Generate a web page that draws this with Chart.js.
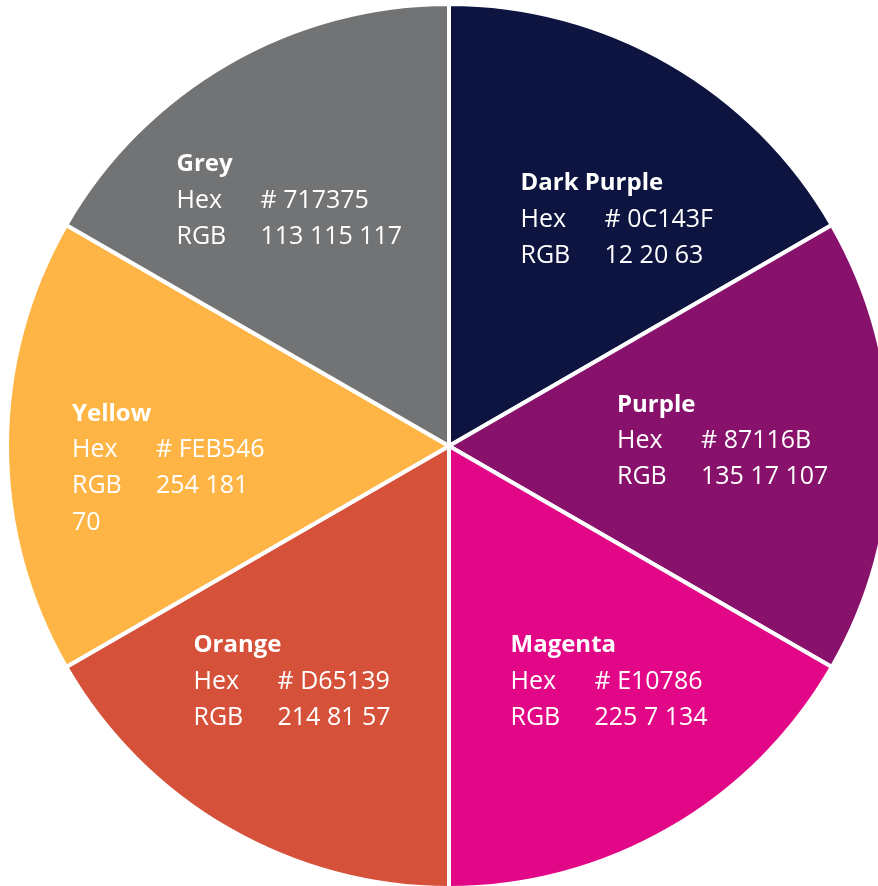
<!DOCTYPE html>
<html>
<head>
<meta charset="utf-8">
<script src="https://cdn.jsdelivr.net/npm/chart.js@4.4.0/dist/chart.umd.min.js"></script>
<style>
  html, body { margin: 0; padding: 0; background: #fff; overflow: hidden; width: 878px; height: 886px; }
  #wrap { position: absolute; left: 0; top: 0; width: 898px; height: 892px; }
</style>
</head>
<body>
<div id="wrap"><canvas id="paletteChart" width="898" height="892"></canvas></div>
<script>
const names = ["Dark Purple", "Purple", "Magenta", "Orange", "Yellow", "Grey"];
const shares = [1, 1, 1, 1, 1, 1];
const hexCodes = ["# 0C143F", "# 87116B", "# E10786", "# D65139", "# FEB546", "# 717375"];
const rgbValues = [["12 20 63"], ["135 17 107"], ["225 7 134"], ["214 81 57"], ["254 181", "70"], ["113 115 117"]];
const colors = ["#0C143F", "#87116B", "#E10786", "#D65139", "#FEB546", "#717375"];

// where each text block starts, relative to the slice's centre point
const labelOffsets = [[-39, -71], [-53, -41], [-49, 8], [-145, 8], [-156, -32], [-162, -90]];

const labelPlugin = {
  id: "paletteLabels",
  afterDatasetsDraw(chart) {
    const ctx = chart.ctx;
    const arcs = chart.getDatasetMeta(0).data;
    ctx.save();
    ctx.fillStyle = "#ffffff";
    ctx.textBaseline = "middle";
    ctx.textAlign = "left";
    arcs.forEach((arc, i) => {
      const p = arc.tooltipPosition();
      const x = p.x + labelOffsets[i][0];
      let y = p.y + labelOffsets[i][1];
      ctx.font = "bold 24px 'Open Sans'";
      ctx.fillText(names[i], x, y);
      ctx.font = "25px 'Open Sans'";
      y += 36;
      ctx.fillText("Hex", x, y);
      ctx.fillText(hexCodes[i], x + 84, y);
      y += 36;
      ctx.fillText("RGB", x, y);
      ctx.fillText(rgbValues[i][0], x + 84, y);
      if (rgbValues[i][1]) {
        y += 37;
        ctx.fillText(rgbValues[i][1], x, y);
      }
    });
    ctx.restore();
  }
};

new Chart(document.getElementById("paletteChart"), {
  type: "pie",
  data: {
    labels: names,
    datasets: [{
      data: shares,
      backgroundColor: colors,
      borderColor: "#ffffff",
      borderWidth: 4,
      hoverOffset: 0
    }]
  },
  options: {
    responsive: false,
    animation: false,
    layout: { padding: 2 },
    plugins: {
      legend: { display: false },
      tooltip: { enabled: false }
    }
  },
  plugins: [labelPlugin]
});
</script>
</body>
</html>
